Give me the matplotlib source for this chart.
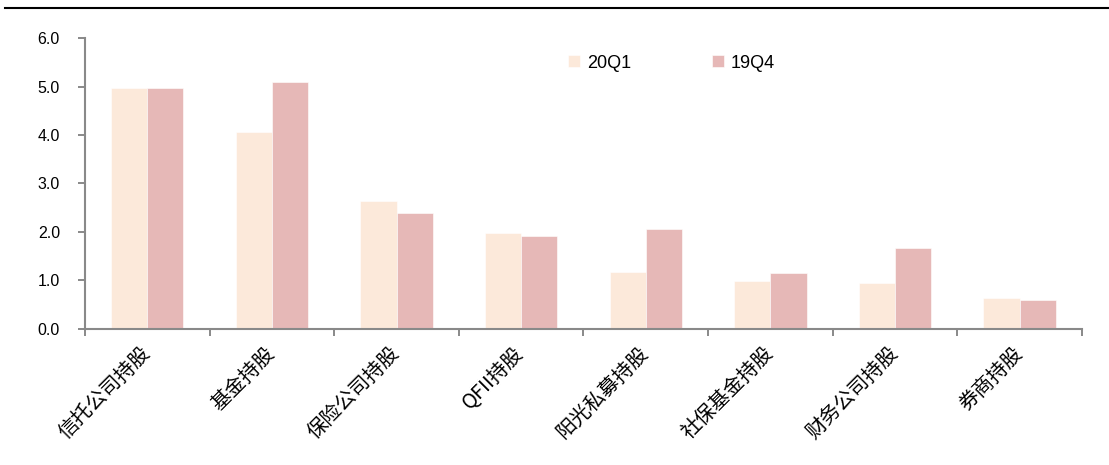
import numpy as np
import matplotlib.pyplot as plt
from matplotlib.lines import Line2D

plt.rcParams['font.family'] = ['Noto Sans CJK SC', 'DejaVu Sans']

# %% data
categories = ['信托公司持股', '基金持股', '保险公司持股', 'QFII持股',
              '阳光私募持股', '社保基金持股', '财务公司持股', '券商持股']
q20q1 = [4.98, 4.07, 2.64, 1.97, 1.17, 0.98, 0.94, 0.64]
q19q4 = [4.98, 5.09, 2.39, 1.92, 2.06, 1.15, 1.66, 0.59]
yticks = [0.0, 1.0, 2.0, 3.0, 4.0, 5.0, 6.0]

# %% plot
fig = plt.figure(figsize=(11.09, 4.65), dpi=100)
ax = fig.add_axes([0.0766, 0.2935, 0.899, 0.6242])

x = np.arange(len(categories))
w = 0.29
ax.bar(x - w/2, q20q1, w, color='#FCE9DA', edgecolor='white', linewidth=0.4, label='20Q1')
ax.bar(x + w/2, q19q4, w, color='#E6B8B7', edgecolor='white', linewidth=0.4, label='19Q4')

ax.set_xlim(-0.5, len(categories) - 0.5)
ax.set_ylim(0, 6)
ax.set_yticks(yticks)
ax.set_yticklabels(['%.1f' % v for v in yticks], fontsize=11.5,
                   family=['Liberation Sans', 'DejaVu Sans'])

# category boundaries as tick marks, labels at centres
ax.set_xticks(np.arange(-0.5, len(categories)), minor=True)
ax.set_xticks(x)
ax.set_xticklabels(categories, rotation=45, ha='right', va='center',
                   rotation_mode='anchor', fontsize=14.5)
ax.tick_params(axis='x', which='major', length=0, pad=16)
ax.tick_params(axis='x', which='minor', length=5, color='#898989', width=1.4)
ax.tick_params(axis='y', length=5, color='#898989', width=1.4, pad=13)

for s in ['top', 'right']:
    ax.spines[s].set_visible(False)
for s in ['left', 'bottom']:
    ax.spines[s].set_color('#898989')
    ax.spines[s].set_linewidth(1.5)

ax.legend(loc='upper left', bbox_to_anchor=(0.468, 1.0), ncol=2, frameon=False,
          handlelength=0.65, handleheight=0.65, handletextpad=0.4,
          columnspacing=4.5, prop={'family': ['Liberation Sans', 'DejaVu Sans'], 'size': 13})

# black rule across the top
fig.add_artist(Line2D([5/1109, 1.0], [1 - 8/465, 1 - 8/465], color='black', lw=1.5))

fig.savefig('out.png', dpi=100)
